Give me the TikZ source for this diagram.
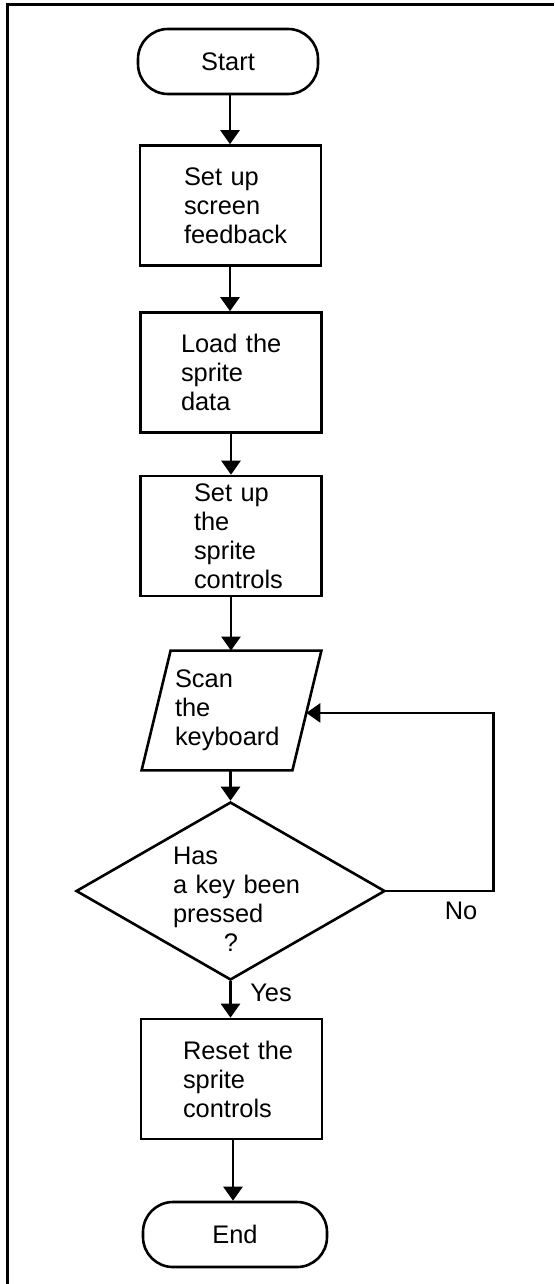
\documentclass[tikz,border=0pt]{standalone}
\usepackage{fontspec}
\setmainfont{Liberation Sans}
\usetikzlibrary{shapes.geometric}
\usetikzlibrary{arrows.meta, positioning, calc}

\begin{document}
\begin{tikzpicture}[x=0.5pt, y=-0.5pt,
    every node/.style={font=\fontsize{12.7}{14.5}\selectfont},
    terminal/.style={draw, line width=1.3pt, rounded corners=15pt,
        minimum width=90pt, minimum height=32.5pt, inner sep=0pt},
    process/.style={draw, line width=1.3pt, minimum width=90.5pt,
        minimum height=60pt, inner sep=0pt, align=left},
    iobox/.style={minimum width=89.5pt, minimum height=59.5pt,
        inner sep=0pt, align=left, text width=56.5pt},
    decision/.style={draw, diamond, line width=1.3pt, inner sep=0pt,
        minimum width=154.5pt, minimum height=89pt},
    flow/.style={line width=1.3pt, -{Triangle[width=9.5pt,length=7pt]}}]
    \useasboundingbox (0,0) rectangle (554,1284);

    % frame
    \draw[line width=1.5pt] (7.5,1284) -- (7.5,5) -- (554,5);

    \node[terminal] (start) at (228,61.5) {Start};
    \node[process, text width=46.5pt] (feedback) at (230.5,205.5) {Set~up\\screen\\feedback};
    \node[process, text width=50pt] (load) at (231,372.5) {Load~the\\sprite\\data};
    \node[process, text width=37pt] (setup) at (231,536) {Set~up\\the\\sprite\\controls};
    \node[iobox] (scan) at (231.5,710.5) {Scan\\the\\keyboard};
    \draw[line width=1.3pt] ($(scan.north west)+(29,0)$) -- (scan.north east)
        -- ($(scan.south east)+(-29,0)$) -- (scan.south west) -- cycle;
    \coordinate (scan br) at ($(scan.south east)+(-29,0)$);
    \coordinate (scan in) at ($(scan.north east)!0.52!(scan br)$);
    \node[decision] (ask) at (230.5,891) {};
    \node[align=left, text width=58pt, inner sep=0pt] (asktext) at (231,899)
        {Has\\a~key~been\\pressed\\\hspace*{25.4pt}?};
    \node[process, text width=48.5pt] (reset) at (231.5,1079) {Reset~the\\sprite\\controls};
    \node[terminal, minimum width=92pt] (end) at (235,1234.5) {End};

    \node (nolbl) at (461,911) {No};
    \node (yeslbl) at (271,993) {Yes};

    \draw[flow] (start.south -| 230,0) -- (feedback.north -| 230,0);
    \draw[flow] (feedback.south -| 230,0) -- (load.north -| 230,0);
    \draw[flow] (load.south) -- (setup.north);
    \draw[flow] (setup.south) -- (setup.south |- scan.north);
    \draw[flow] (ask.north |- scan.south) -- (ask.north);
    \draw[flow] (ask.south) -- (ask.south |- reset.north);
    \draw[flow] (reset.south -| 233,0) -- (end.north -| 233,0);
    \draw[flow] (ask.east) -- ++(107,0) |- (scan in);
\end{tikzpicture}
\end{document}
